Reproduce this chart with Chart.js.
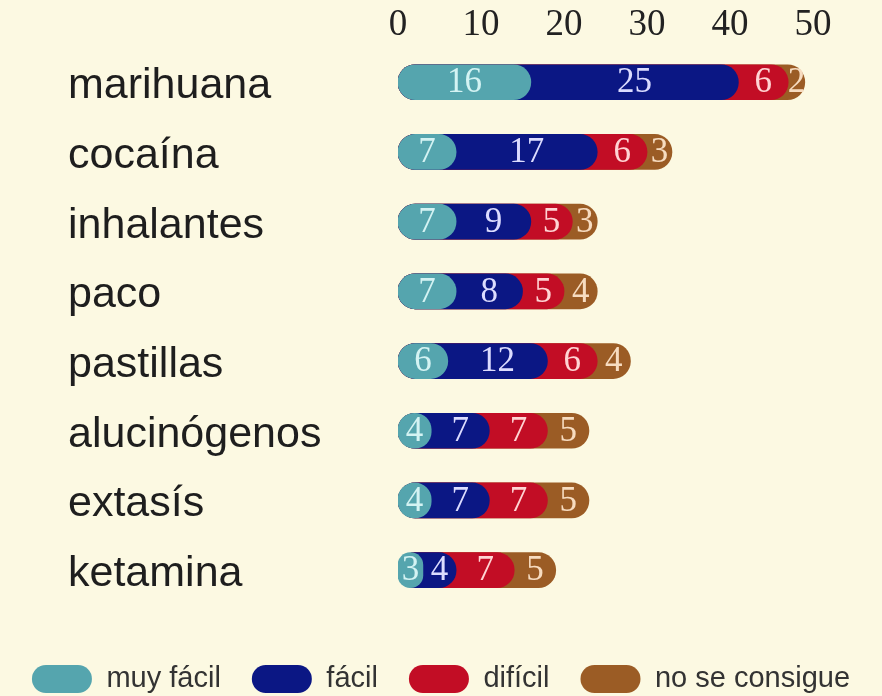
<!DOCTYPE html>
<html lang="es">
<head>
<meta charset="utf-8">
<title>Acceso a drogas</title>
<script src="https://cdn.jsdelivr.net/npm/chart.js@4.4.1/dist/chart.umd.min.js"></script>
<style>
    html, body { margin: 0; padding: 0; background: #fcf9e2; }
    #wrap { position: relative; width: 882px; height: 696px; }
</style>
</head>
<body>
<div id="wrap"><canvas id="drugChart"></canvas></div>
<script>
// ===================================
// Datos
// ===================================
const categories = ['marihuana', 'cocaína', 'inhalantes', 'paco', 'pastillas', 'alucinógenos', 'extasís', 'ketamina'];
const muyFacil = [16, 7, 7, 7, 6, 4, 4, 3];
const facil = [25, 17, 9, 8, 12, 7, 7, 4];
const dificil = [6, 6, 5, 5, 6, 7, 7, 7];
const noSeConsigue = [2, 3, 3, 4, 4, 5, 5, 5];
const seriesNames = ['muy fácil', 'fácil', 'difícil', 'no se consigue'];
const axisTicks = [0, 10, 20, 30, 40, 50];

const seriesValues = [muyFacil, facil, dificil, noSeConsigue];
const colors = ['#55a5ae', '#0b1784', '#c20d25', '#9b5c25'];
const labelColors = ['#d4f3f3', '#dcdcff', '#ffd4d4', '#f7dcc0'];

// each capsule runs from 0 to the running total, drawn back to front
const running = categories.map(() => 0);
const datasets = seriesValues.map((values, i) => {
    const ends = values.map((v, j) => (running[j] += v));
    return {
        label: seriesNames[i],
        data: ends,
        segment: values,
        backgroundColor: colors[i],
        borderWidth: 0,
        borderRadius: 17.5,
        borderSkipped: false,
        barThickness: 35,
        grouped: false
    };
});

// numbers inside each segment
const segmentLabels = {
    id: 'segmentLabels',
    afterDatasetsDraw(chart) {
        const ctx = chart.ctx;
        ctx.save();
        ctx.font = '35px "Liberation Serif", serif';
        ctx.textAlign = 'center';
        ctx.textBaseline = 'middle';
        chart.data.datasets.forEach((ds, i) => {
            const meta = chart.getDatasetMeta(i);
            meta.data.forEach((bar, j) => {
                const start = i === 0 ? bar.base : chart.getDatasetMeta(i - 1).data[j].x;
                ctx.fillStyle = labelColors[i];
                ctx.fillText(ds.segment[j], (start + bar.x) / 2, bar.y + 1);
            });
        });
        ctx.restore();
    }
};

const hidden = { grid: { display: false }, border: { display: false }, ticks: { display: false } };

new Chart(document.getElementById('drugChart'), {
    type: 'bar',
    data: { labels: categories, datasets: datasets },
    plugins: [segmentLabels],
    options: {
        indexAxis: 'y',
        responsive: true,
        maintainAspectRatio: false,
        animation: false,
        layout: { padding: { top: 3, right: 0, bottom: -7.5, left: 0 } },
        scales: {
            x: {
                type: 'linear',
                position: 'top',
                min: 0,
                max: 58.3,
                grid: { display: false, drawTicks: false },
                border: { display: false },
                afterBuildTicks: axis => { axis.ticks = axisTicks.map(v => ({ value: v })); },
                ticks: {
                    padding: 0,
                    color: '#222',
                    font: { family: '"Liberation Serif", serif', size: 37 }
                }
            },
            y: {
                type: 'category',
                grid: { display: false, drawTicks: false },
                border: { display: false },
                afterFit: axis => { axis.width = 330; },
                ticks: {
                    crossAlign: 'far',
                    autoSkip: false,
                    labelOffset: 4,
                    color: '#1e1e1e',
                    font: { family: '"Liberation Sans", Arial, sans-serif', size: 43 }
                }
            },
            // blank room left of the names and above the legend
            padLeft: { type: 'linear', axis: 'y', position: 'left', weight: 10, ...hidden, afterFit: axis => { axis.width = 68; } },
            padBottom: { type: 'linear', axis: 'x', position: 'bottom', ...hidden, afterFit: axis => { axis.height = 28.5; } }
        },
        plugins: {
            tooltip: { enabled: false },
            legend: {
                position: 'bottom',
                labels: {
                    boxWidth: 60,
                    boxHeight: 28,
                    useBorderRadius: true,
                    borderRadius: 14,
                    padding: 31,
                    color: '#333',
                    font: { family: '"Liberation Sans", Arial, sans-serif', size: 29 }
                }
            }
        }
    }
});
</script>
</body>
</html>
